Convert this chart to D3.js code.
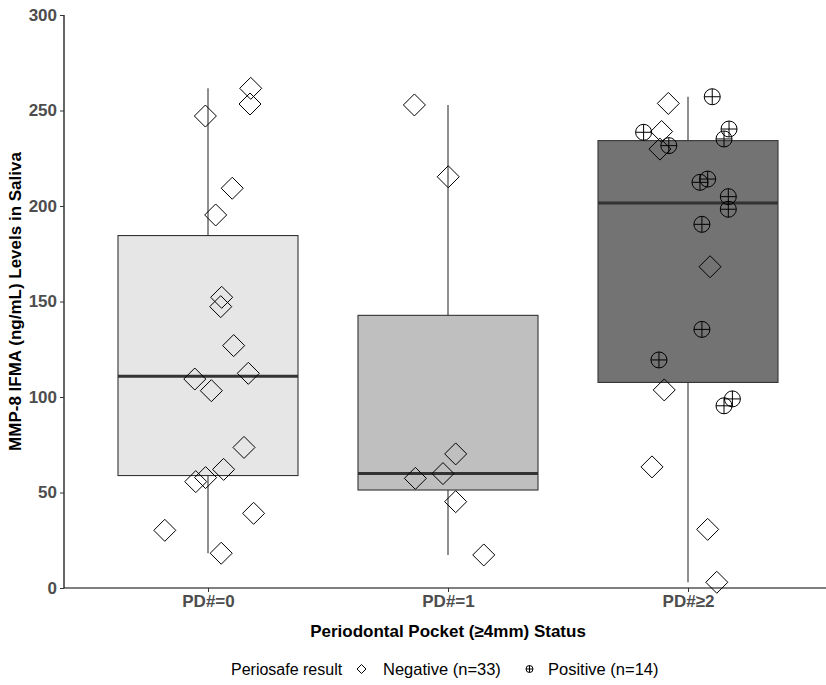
<!DOCTYPE html>
<html><head><meta charset="utf-8">
<script src="https://cdn.jsdelivr.net/npm/d3@7"></script>
<style>body{margin:0;background:#fff}svg{display:block}text{font-family:"Liberation Sans",Arial,Helvetica,sans-serif}</style>
</head><body><svg id="c" width="826" height="685"></svg>
<script>
const categories = ["PD#=0", "PD#=1", "PD#≥2"];
const boxFills = ["#e6e6e6", "#bfbfbf", "#737373"];
const yTicks = [0, 50, 100, 150, 200, 250, 300];
const legendLabels = ["Negative (n=33)", "Positive (n=14)"];
// per-point: group index, value, result (0 = negative, 1 = positive), horizontal jitter (band units)
const ptGroup = [0,0,0,0,0,0,0,0,0,0,0,0,0,0,0,0,0,0, 1,1,1,1,1,1,1, 2,2,2,2,2,2,2,2,2,2,2,2,2,2,2,2,2,2,2,2,2,2];
const ptValue = [261.6,253.4,247.1,209.3,195.3,152.2,147.3,126.9,112.4,109.4,103.3,73.6,62.1,57.8,55.7,39.1,30.2,18.2,
  252.9,215.3,70.2,59.9,57.4,45.2,17.3,
  253.7,257.2,238.6,239.0,240.3,235.1,229.8,231.6,214.1,212.4,204.9,198.3,190.4,168.2,135.4,119.4,103.7,99.0,95.4,63.4,30.7,3.0];
const ptResult = [0,0,0,0,0,0,0,0,0,0,0,0,0,0,0,0,0,0, 0,0,0,0,0,0,0,
  0,1,1,0,1,1,0,1,1,1,1,1,1,0,1,1,0,1,1,0,0,0];
const ptJitter = [0.178,0.175,-0.011,0.101,0.032,0.057,0.053,0.107,0.168,-0.055,0.014,0.150,0.065,-0.010,-0.051,0.190,-0.180,0.055,
  -0.140,0.001,0.032,-0.021,-0.136,0.032,0.149,
  -0.082,0.101,-0.185,-0.110,0.171,0.150,-0.117,-0.080,0.082,0.050,0.168,0.168,0.058,0.092,0.058,-0.121,-0.099,0.185,0.150,-0.150,0.082,0.120];

const svg = d3.select("#c");
const L = 64, T = 15, B = 588, unit = 240;
const x = d3.scaleLinear().domain([0.4, 3.6]).range([L, L + 3.2 * unit]);
const y = d3.scaleLinear().domain([0, 300]).range([B, T]);
const boxW = 0.75;

// boxes
categories.forEach((c, i) => {
  const vals = ptValue.filter((v, k) => ptGroup[k] === i).sort(d3.ascending);
  const q1 = d3.quantile(vals, 0.25), med = d3.quantile(vals, 0.5), q3 = d3.quantile(vals, 0.75);
  const iqr = q3 - q1;
  const lo = d3.min(vals.filter(v => v >= q1 - 1.5 * iqr)), hi = d3.max(vals.filter(v => v <= q3 + 1.5 * iqr));
  const cx = x(i + 1), x0 = x(i + 1 - boxW / 2), x1 = x(i + 1 + boxW / 2);
  const g = svg.append("g");
  g.append("line").attr("x1", cx).attr("x2", cx).attr("y1", y(q3)).attr("y2", y(hi)).attr("stroke", "#333").attr("stroke-width", 1.1);
  g.append("line").attr("x1", cx).attr("x2", cx).attr("y1", y(q1)).attr("y2", y(lo)).attr("stroke", "#333").attr("stroke-width", 1.1);
  g.append("rect").attr("x", x0).attr("y", y(q3)).attr("width", x1 - x0).attr("height", y(q1) - y(q3))
    .attr("fill", boxFills[i]).attr("stroke", "#333").attr("stroke-width", 1.1);
  g.append("line").attr("x1", x0).attr("x2", x1).attr("y1", y(med)).attr("y2", y(med)).attr("stroke", "#333").attr("stroke-width", 3);
});

// markers
function diamond(g, cx, cy, r) {
  g.append("path").attr("d", `M${cx},${cy - r}L${cx + r},${cy}L${cx},${cy + r}L${cx - r},${cy}Z`)
    .attr("fill", "none").attr("stroke", "#000").attr("stroke-width", 1);
}
function circlePlus(g, cx, cy, r) {
  g.append("circle").attr("cx", cx).attr("cy", cy).attr("r", r).attr("fill", "none").attr("stroke", "#000").attr("stroke-width", 1);
  g.append("path").attr("d", `M${cx - r},${cy}H${cx + r}M${cx},${cy - r}V${cy + r}`).attr("stroke", "#000").attr("stroke-width", 1);
}
const pg = svg.append("g");
ptValue.forEach((v, k) => {
  const cx = x(ptGroup[k] + 1 + ptJitter[k]), cy = y(v);
  if (ptResult[k] === 0) diamond(pg, cx, cy, 11); else circlePlus(pg, cx, cy, 8);
});

// axes
const yAxis = svg.append("g").attr("transform", `translate(${L},0)`)
  .call(d3.axisLeft(y).tickValues(yTicks).tickSize(4).tickPadding(3).tickSizeOuter(0));
yAxis.select(".domain").attr("stroke", "#000").attr("stroke-width", 1.2).attr("d", `M0,${T}V${B}`);
yAxis.selectAll(".tick line").attr("stroke", "#333");
yAxis.selectAll(".tick text").attr("fill", "#4d4d4d").attr("font-size", 17).attr("font-weight", "bold")
  .attr("font-family", "'Liberation Sans', Arial, sans-serif");

const xAxis = svg.append("g").attr("transform", `translate(0,${B})`)
  .call(d3.axisBottom(x).tickValues([1, 2, 3]).tickFormat(d => categories[d - 1]).tickSize(4).tickPadding(3).tickSizeOuter(0));
xAxis.select(".domain").attr("stroke", "#000").attr("stroke-width", 1.2).attr("d", `M${L},0H826`);
xAxis.selectAll(".tick line").attr("stroke", "#333");
xAxis.selectAll(".tick text").attr("fill", "#4d4d4d").attr("font-size", 17).attr("font-weight", "bold")
  .attr("font-family", "'Liberation Sans', Arial, sans-serif");

svg.append("text").attr("x", x(2)).attr("y", 637).attr("text-anchor", "middle")
  .attr("font-size", 17).attr("font-weight", "bold").attr("fill", "#000").text("Periodontal Pocket (≥4mm) Status");
svg.append("text").attr("transform", `translate(21,${(T + B) / 2}) rotate(-90)`).attr("text-anchor", "middle")
  .attr("font-size", 17).attr("font-weight", "bold").attr("fill", "#000").text("MMP-8 IFMA (ng/mL) Levels in Saliva");

// legend
const lg = svg.append("g");
const ly = 669;
lg.append("text").attr("x", 231).attr("y", ly + 6).attr("font-size", 16).attr("fill", "#000").text("Periosafe result");
diamond(lg, 361.5, ly, 4.5);
lg.append("text").attr("x", 383).attr("y", ly + 6).attr("font-size", 16.5).attr("fill", "#000").text(legendLabels[0]);
circlePlus(lg, 529.5, ly, 3.5);
lg.append("text").attr("x", 548).attr("y", ly + 6).attr("font-size", 16.5).attr("fill", "#000").text(legendLabels[1]);
</script></body></html>
